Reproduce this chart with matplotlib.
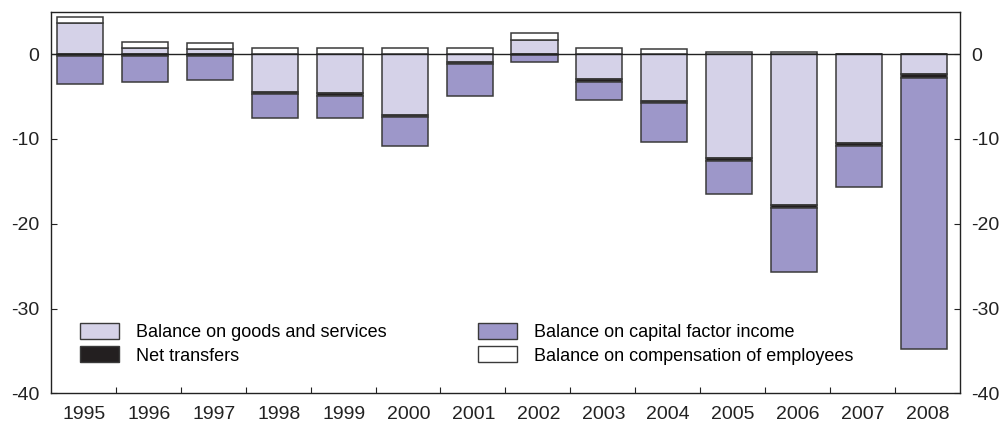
import matplotlib
matplotlib.use("Agg")
import matplotlib.pyplot as plt
from matplotlib.patches import Patch
import numpy as np

years = ["1995", "1996", "1997", "1998", "1999", "2000", "2001",
         "2002", "2003", "2004", "2005", "2006", "2007", "2008"]
goods_services = [3.69, 0.67, 0.55, -4.45, -4.64, -7.2, -0.98,
                  1.65, -2.99, -5.5, -12.31, -17.82, -10.5, -2.36]
net_transfers = [-0.2, -0.2, -0.2, -0.25, -0.25, -0.25, -0.2,
                 -0.15, -0.25, -0.25, -0.3, -0.3, -0.35, -0.4]
capital_income = [-3.38, -3.07, -2.87, -2.89, -2.63, -3.41, -3.78,
                  -0.76, -2.19, -4.6, -3.91, -7.6, -4.88, -31.97]
compensation = [0.64, 0.74, 0.71, 0.74, 0.74, 0.67, 0.67,
                0.79, 0.67, 0.55, 0.27, 0.2, 0.05, 0.05]

labels = ["Balance on goods and services", "Net transfers",
          "Balance on capital factor income",
          "Balance on compensation of employees"]

c_goods = "#D5D2E8"
c_cap = "#9D97C9"
c_trans = "#231F20"
c_comp = "#FFFFFF"
edge = "#3a3a3a"

plt.rcParams['font.family'] = ['Liberation Sans', 'DejaVu Sans']

fig = plt.figure(figsize=(10.05, 4.21), dpi=100)
ax = fig.add_axes([50.7 / 1005, 1 - 393.3 / 421, (960 - 50.7) / 1005, (393.3 - 11.7) / 421])

x = np.arange(len(years))
w = 0.71
g = np.array(goods_services)
t = np.array(net_transfers)
c = np.array(capital_income)
e = np.array(compensation)

pos_base = np.where(g > 0, g, 0.0)
neg_goods = np.where(g < 0, g, 0.0)
kw = dict(width=w, edgecolor=edge, linewidth=1.1, zorder=2)

ax.bar(x, np.where(g > 0, g, 0), bottom=0, color=c_goods, **kw)
ax.bar(x, neg_goods, bottom=0, color=c_goods, **kw)
ax.bar(x, t, bottom=neg_goods, color=c_trans, **kw)
ax.bar(x, c, bottom=neg_goods + t, color=c_cap, **kw)
ax.bar(x, e, bottom=pos_base, color=c_comp, **kw)

ax.axhline(0, color="#222222", linewidth=1.0, zorder=3)

ax.set_xlim(-0.455, 13.556)
ax.set_ylim(-40, 5)

# y axis: labels on both sides, ticks inward
ax.set_yticks([0, -10, -20, -30, -40])
ax.set_yticklabels(["0", "-10", "-20", "-30", "-40"])
ax.tick_params(axis='y', which='both', direction='in', length=4, width=0.8,
               left=True, right=True, labelleft=True, labelright=True,
               labelsize=14, pad=8, colors="#222222")

# x axis: tick marks between categories, labels at categories
ax.set_xticks(x[:-1] + 0.55)
ax.set_xticklabels([])
ax.set_xticks(x + 0.06, minor=True)
ax.set_xticklabels(years, minor=True)
ax.tick_params(axis='x', which='major', direction='in', length=4, width=0.8,
               colors="#222222")
ax.tick_params(axis='x', which='minor', length=0, labelsize=14, pad=9,
               colors="#222222")

for s in ax.spines.values():
    s.set_color("#222222")
    s.set_linewidth(1.0)

handles = [Patch(facecolor=c_goods, edgecolor=edge, linewidth=1.0),
           Patch(facecolor=c_trans, edgecolor=edge, linewidth=1.0),
           Patch(facecolor=c_cap, edgecolor=edge, linewidth=1.0),
           Patch(facecolor=c_comp, edgecolor=edge, linewidth=1.0)]

leg_kw = dict(frameon=False, fontsize=13, handlelength=2.15, handleheight=0.96,
              handletextpad=0.93, labelspacing=0.3, borderpad=0,
              borderaxespad=0, loc='upper left')
leg1 = fig.legend(handles[:2], labels[:2],
                  bbox_to_anchor=(80 / 1005, 1 - 323 / 421), **leg_kw)
leg2 = fig.legend(handles[2:], labels[2:],
                  bbox_to_anchor=(478 / 1005, 1 - 323 / 421), **leg_kw)

fig.savefig("out.png", dpi=100)
